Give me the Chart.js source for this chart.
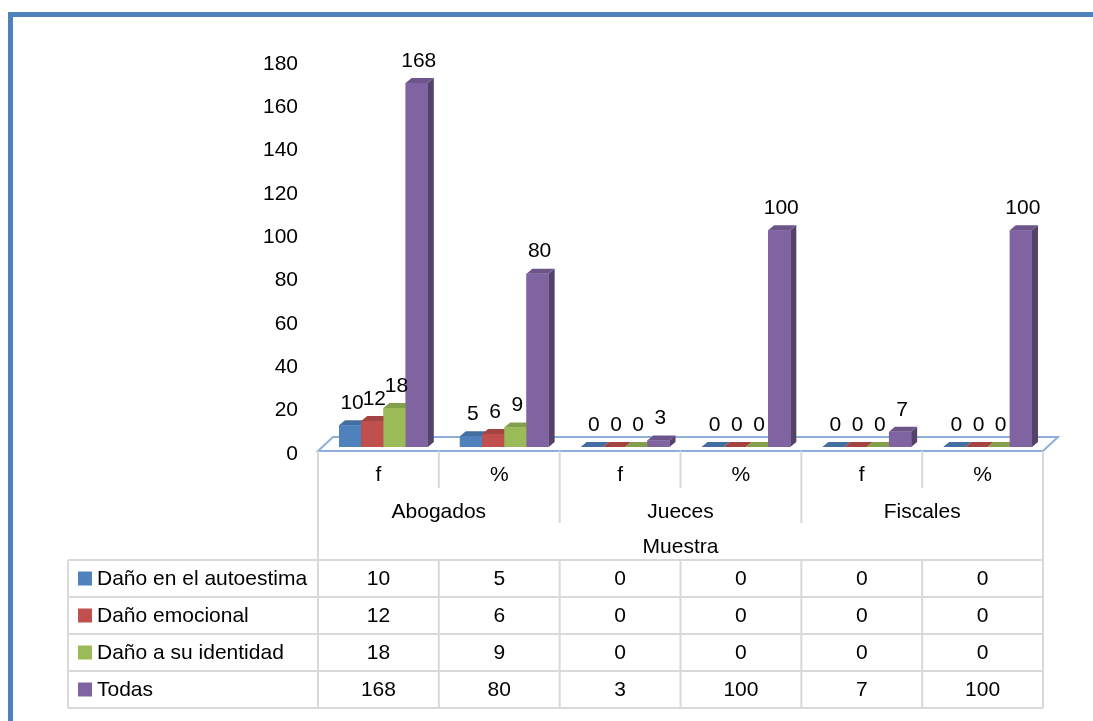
<!DOCTYPE html>
<html>
<head>
<meta charset="utf-8">
<script src="https://cdn.jsdelivr.net/npm/chart.js@4.4.0/dist/chart.umd.min.js"></script>
<style>
html, body { margin: 0; padding: 0; background: #fff; }
#wrap { position: relative; width: 1093px; height: 721px; }
</style>
</head>
<body>
<div id="wrap"><canvas id="chart"></canvas></div>
<script>
const categories = ['f', '%', 'f', '%', 'f', '%'];
const groups = ['Abogados', 'Jueces', 'Fiscales'];
const axisTitle = 'Muestra';
const seriesNames = ['Daño en el autoestima', 'Daño emocional', 'Daño a su identidad', 'Todas'];
const autoestima = [10, 5, 0, 0, 0, 0];
const emocional = [12, 6, 0, 0, 0, 0];
const identidad = [18, 9, 0, 0, 0, 0];
const todas = [168, 80, 3, 100, 7, 100];
const colors = ['#4F81BD', '#C0504D', '#9BBB59', '#8064A2'];

const FONT = '21px "Liberation Sans", Arial, sans-serif';
const SHIFT = 5;      // bars sit a little to the right of the table columns
const DX = 6, DY = 5; // depth of the 3d faces
const GRID = '#D9D9D9';

function shade(hex, f) {
    const n = parseInt(hex.slice(1), 16);
    const r = Math.round(((n >> 16) & 255) * f);
    const g = Math.round(((n >> 8) & 255) * f);
    const b = Math.round((n & 255) * f);
    return `rgb(${r},${g},${b})`;
}

const frame = {
    id: 'frame',
    beforeDraw(c) {
        const ctx = c.ctx;
        ctx.save();
        ctx.fillStyle = '#4F81BD';
        ctx.fillRect(8, 12, c.width, 5);
        ctx.fillRect(8, 12, 5, c.height);
        ctx.restore();
    }
};

const floor = {
    id: 'floor',
    beforeDatasetsDraw(c) {
        const ctx = c.ctx;
        const a = c.chartArea;
        const base = c.scales.y.getPixelForValue(0);
        const L = a.left - SHIFT, R = a.right - SHIFT;
        const yf = base + 4, yb = base - 10;
        ctx.save();
        ctx.strokeStyle = '#8DB0DA';
        ctx.lineWidth = 2;
        ctx.beginPath();
        ctx.moveTo(L, yf);
        ctx.lineTo(R, yf);
        ctx.lineTo(R + 15, yb);
        ctx.lineTo(L + 15, yb);
        ctx.closePath();
        ctx.stroke();
        ctx.restore();
    }
};

const bars3d = {
    id: 'bars3d',
    afterDatasetsDraw(c) {
        const ctx = c.ctx;
        ctx.save();
        for (let i = 0; i < categories.length; i++) {
            c.data.datasets.forEach((ds, d) => {
                const el = c.getDatasetMeta(d).data[i];
                const col = colors[d];
                const l = el.x - el.width / 2, r = el.x + el.width / 2;
                const top = el.y, base = el.base;
                // side
                ctx.fillStyle = shade(col, 0.66);
                ctx.beginPath();
                ctx.moveTo(r, top);
                ctx.lineTo(r + DX, top - DY);
                ctx.lineTo(r + DX, base - DY);
                ctx.lineTo(r, base);
                ctx.closePath();
                ctx.fill();
                // top
                ctx.fillStyle = shade(col, 0.85);
                ctx.beginPath();
                ctx.moveTo(l, top);
                ctx.lineTo(l + DX, top - DY);
                ctx.lineTo(r + DX, top - DY);
                ctx.lineTo(r, top);
                ctx.closePath();
                ctx.fill();
                // front
                ctx.fillStyle = col;
                ctx.fillRect(l, top, r - l, base - top);
            });
        }
        // value labels
        ctx.fillStyle = '#000';
        ctx.font = FONT;
        ctx.textAlign = 'center';
        ctx.textBaseline = 'middle';
        c.data.datasets.forEach((ds, d) => {
            c.getDatasetMeta(d).data.forEach((el, i) => {
                ctx.fillText(String(ds.data[i]), el.x + 2, el.y - 22);
            });
        });
        ctx.restore();
    }
};

const table = {
    id: 'table',
    afterDraw(c) {
        const ctx = c.ctx;
        const a = c.chartArea;
        const base = c.scales.y.getPixelForValue(0);
        const L = a.left - SHIFT, R = a.right - SHIFT;
        const cw = (R - L) / categories.length;
        const yf = base + 4;
        const rowTop = yf + 109, rowH = 37, legL = 68;
        const rows = [autoestima, emocional, identidad, todas];
        ctx.save();
        ctx.strokeStyle = GRID;
        ctx.lineWidth = 2;
        ctx.beginPath();
        // outer verticals
        ctx.moveTo(L, yf); ctx.lineTo(L, rowTop + rowH * 4);
        ctx.moveTo(R, yf); ctx.lineTo(R, rowTop + rowH * 4);
        ctx.moveTo(legL, rowTop); ctx.lineTo(legL, rowTop + rowH * 4);
        for (let i = 1; i < categories.length; i++) {
            const x = L + i * cw;
            ctx.moveTo(x, yf);
            ctx.lineTo(x, i % 2 === 0 ? yf + 72 : yf + 37);
            ctx.moveTo(x, rowTop);
            ctx.lineTo(x, rowTop + rowH * 4);
        }
        for (let r = 0; r <= 4; r++) {
            ctx.moveTo(legL, rowTop + r * rowH);
            ctx.lineTo(R, rowTop + r * rowH);
        }
        ctx.stroke();

        ctx.fillStyle = '#000';
        ctx.font = FONT;
        ctx.textAlign = 'center';
        ctx.textBaseline = 'middle';
        categories.forEach((t, i) => ctx.fillText(t, L + (i + 0.5) * cw, yf + 24));
        groups.forEach((t, g) => ctx.fillText(t, L + (g * 2 + 1) * cw, yf + 61));
        ctx.fillText(axisTitle, (L + R) / 2, yf + 96);
        rows.forEach((vals, r) => {
            const cy = rowTop + r * rowH + rowH / 2;
            vals.forEach((v, i) => ctx.fillText(String(v), L + (i + 0.5) * cw, cy + 1));
        });
        // legend keys
        ctx.textAlign = 'left';
        seriesNames.forEach((n, r) => {
            const cy = rowTop + r * rowH + rowH / 2;
            ctx.fillStyle = colors[r];
            ctx.fillRect(78, cy - 7, 14, 14);
            ctx.fillStyle = '#000';
            ctx.fillText(n, 97, cy + 1);
        });
        ctx.restore();
    }
};

new Chart(document.getElementById('chart'), {
    type: 'bar',
    data: {
        labels: categories,
        datasets: [
            { label: seriesNames[0], data: autoestima, backgroundColor: colors[0] },
            { label: seriesNames[1], data: emocional, backgroundColor: colors[1] },
            { label: seriesNames[2], data: identidad, backgroundColor: colors[2] },
            { label: seriesNames[3], data: todas, backgroundColor: colors[3] }
        ]
    },
    options: {
        responsive: true,
        maintainAspectRatio: false,
        animation: false,
        layout: { padding: { left: 0, top: 57, right: 45, bottom: 274 } },
        datasets: { bar: { categoryPercentage: 0.735, barPercentage: 1 } },
        plugins: {
            legend: { display: false },
            tooltip: { enabled: false }
        },
        scales: {
            x: { display: false },
            y: {
                min: 0,
                max: 180,
                afterFit(s) { s.width = 323; },
                grid: { display: false, drawTicks: false },
                border: { display: false },
                ticks: {
                    stepSize: 20,
                    padding: 25,
                    labelOffset: 7,
                    color: '#000',
                    font: { family: '"Liberation Sans", Arial, sans-serif', size: 21 }
                }
            }
        }
    },
    plugins: [frame, floor, bars3d, table]
});
</script>
</body>
</html>
